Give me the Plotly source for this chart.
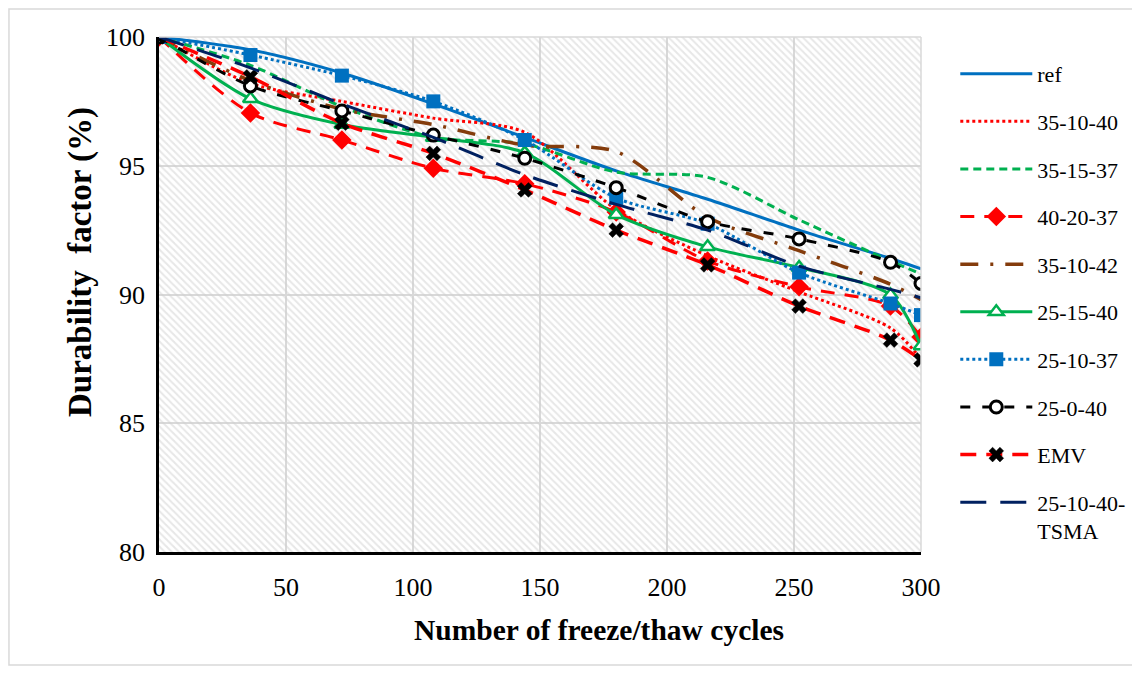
import plotly.graph_objects as go

# ---------------- data ----------------
cycles = [0, 36, 72, 108, 144, 180, 216, 252, 288, 300]

ref       = [100, 99.5, 98.6, 97.4, 96.1, 94.8, 93.7, 92.5, 91.4, 91.0]
s35_10_40 = [100, 98.2, 97.5, 96.85, 96.3, 93.3, 91.5, 90.1, 88.7, 87.5]
s35_15_37 = [100, 98.9, 97.3, 96.1, 95.85, 94.75, 94.55, 92.9, 91.3, 90.8]
s40_20_37 = [100, 97.05, 96.0, 94.9, 94.3, 93.2, 91.3, 90.3, 89.55, 88.35]
s35_10_42 = [100, 98.3, 97.2, 96.6, 95.8, 95.55, 93.0, 91.7, 90.4, 89.8]
s25_15_40 = [100, 97.6, 96.6, 96.1, 95.5, 93.1, 91.85, 91.05, 89.98, 88.0]
s25_10_37 = [100, 99.3, 98.5, 97.5, 96.0, 93.75, 92.75, 90.85, 89.65, 89.2]
s25_0_40  = [100, 98.1, 97.13, 96.19, 95.29, 94.15, 92.83, 92.16, 91.25, 90.43]
emv       = [100, 98.45, 96.65, 95.48, 94.06, 92.5, 91.15, 89.55, 88.23, 87.46]
tsma      = [100, 98.8, 97.4, 96.1, 94.65, 93.5, 92.5, 91.1, 90.2, 89.87]

x_range = [0, 300]
y_range = [80, 100]
x_ticks = [0, 50, 100, 150, 200, 250, 300]
y_ticks = [80, 85, 90, 95, 100]

FONT = "Liberation Serif, Times New Roman, serif"

fig = go.Figure()

# hatched plot-area background
fig.add_trace(go.Scatter(
    x=[x_range[0], x_range[1], x_range[1], x_range[0], x_range[0]],
    y=[y_range[0], y_range[0], y_range[1], y_range[1], y_range[0]],
    mode="none", fill="toself", fillcolor="rgba(0,0,0,0)",
    fillpattern=dict(shape="\\", size=5, solidity=0.4, fgcolor="#cfcfcf",
                     bgcolor="rgba(0,0,0,0)"),
    showlegend=False, hoverinfo="skip"))

series = [
    ("ref", ref, dict(color="#0070C0", width=3, dash="solid"), None),
    ("35-10-40", s35_10_40, dict(color="#FF0000", width=3, dash="dot"), None),
    ("35-15-37", s35_15_37, dict(color="#00B050", width=3, dash="8px,5px"), None),
    ("40-20-37", s40_20_37, dict(color="#FF0000", width=3, dash="14px,10px"),
     dict(symbol="diamond", size=15, color="#FF0000")),
    ("35-10-42", s35_10_42, dict(color="#843C0C", width=3.5, dash="18px,12px,3px,12px"), None),
    ("25-15-40", s25_15_40, dict(color="#00B050", width=3, dash="solid"),
     dict(symbol="triangle-up", size=13, color="white", line=dict(color="#00B050", width=2.5))),
    ("25-10-37", s25_10_37, dict(color="#0070C0", width=3, dash="dot"),
     dict(symbol="square", size=14, color="#0070C0")),
    ("25-0-40", s25_0_40, dict(color="#000000", width=3, dash="10px,12px"),
     dict(symbol="circle", size=12, color="white", line=dict(color="black", width=3))),
    ("EMV", emv, dict(color="#FF0000", width=3.5, dash="16px,10px"),
     dict(symbol="x", size=13, color="black", line=dict(color="black", width=0.5))),
    ("25-10-40-<br>TSMA", tsma, dict(color="#002060", width=3, dash="26px,14px"), None),
]

for i, (name, vals, line, marker) in enumerate(series):
    fig.add_trace(go.Scatter(
        x=cycles, y=vals, name=name,
        mode="lines+markers" if marker else "lines",
        line=dict(shape="spline", smoothing=0.8, **line),
        marker=marker, legendgroup=f"g{i}"))

fig.update_layout(
    width=1140, height=673,
    margin=dict(l=151, r=227, t=29, b=129),
    paper_bgcolor="white", plot_bgcolor="white",
    font=dict(family=FONT, size=26, color="black"),
    showlegend=True,
    legend=dict(x=1.045, xanchor="left", y=0.969, yanchor="top",
                font=dict(family=FONT, size=22, color="black"),
                tracegroupgap=16, valign="top", itemwidth=72,
                maxheight=660,
                bgcolor="rgba(0,0,0,0)"),
    xaxis=dict(range=x_range, tickvals=x_ticks, showgrid=True, gridcolor="#d9d9d9",
               gridwidth=1.5, zeroline=False, showline=True, linecolor="black",
               linewidth=2.5, ticks="", ticklabelstandoff=10,
               tickfont=dict(family=FONT, size=26)),
    yaxis=dict(range=y_range, tickvals=y_ticks, showgrid=True, gridcolor="#d9d9d9",
               gridwidth=1.5, zeroline=False, showline=True, linecolor="black",
               linewidth=2.5, ticks="", ticklabelstandoff=6,
               tickfont=dict(family=FONT, size=26)),
    annotations=[
        dict(text="<b>Number of freeze/thaw cycles</b>", xref="paper", yref="paper",
             x=0.5774, y=-0.1515, xanchor="center", yanchor="middle", showarrow=False,
             font=dict(family=FONT, size=29.5)),
        dict(text="<b>Durability  factor (%)</b>", xref="paper", yref="paper",
             x=-0.1037, y=0.563, xanchor="center", yanchor="middle", showarrow=False,
             textangle=-90, font=dict(family=FONT, size=33)),
    ],
    shapes=[
        dict(type="rect", xref="paper", yref="paper", x0=-0.1969, x1=1.30,
             y0=-0.2194, y1=1.0544, line=dict(color="#d9d9d9", width=1.5),
             fillcolor="rgba(0,0,0,0)", layer="below"),
        dict(type="line", xref="paper", yref="paper", x0=0, x1=1, y0=1, y1=1,
             line=dict(color="#d9d9d9", width=1.5)),
        dict(type="line", xref="paper", yref="paper", x0=1, x1=1, y0=0, y1=1,
             line=dict(color="#d9d9d9", width=1.5)),
    ],
)

fig.write_html("out.html")
